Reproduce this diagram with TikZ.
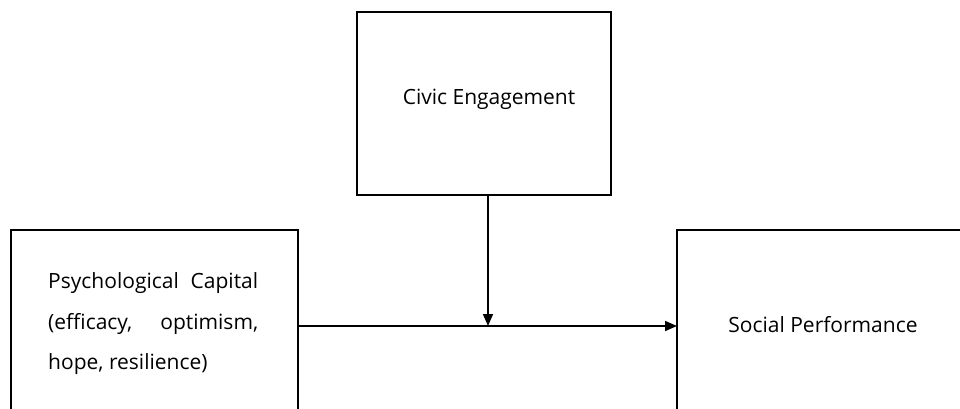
\documentclass[tikz,border=0pt]{standalone}
\usepackage{fontspec}
\setmainfont{Open Sans}
\usetikzlibrary{arrows.meta}
\begin{document}
\begin{tikzpicture}[x=1pt,y=-1pt,
  box/.style={draw=black,line width=1.6pt,fill=none},
  lbl/.style={font=\fontsize{21}{40.5}\selectfont,inner sep=0pt},
  conn/.style={line width=1.6pt,-{Triangle[length=12pt,width=10pt]}}]
\useasboundingbox (0,0) rectangle (960,408);
\clip (0,0) rectangle (960,408);
\fill[white] (0,0) rectangle (960,408);
\draw[box] (357,12) rectangle (611,195);
\draw[box] (11,230) rectangle (298,430);
\draw[box] (677,230) rectangle (980,430);
\coordinate (civb) at (488,195);
\coordinate (psyr) at (298,326);
\coordinate (socl) at (677,326);
\coordinate (mid) at (488,326);
\node[lbl] (civ) at (489,99) {Civic Engagement};
\node[lbl,align=left,anchor=west] (psy) at (48,324) {\makebox[210pt][s]{Psychological Capital}\\\makebox[210pt][s]{(efficacy, optimism,}\\hope, resilience)};
\node[lbl] (soc) at (823,325) {Social Performance};
\draw[conn] (civb) -- (mid);
\draw[conn] (psyr) -- (socl);
\end{tikzpicture}
\end{document}
